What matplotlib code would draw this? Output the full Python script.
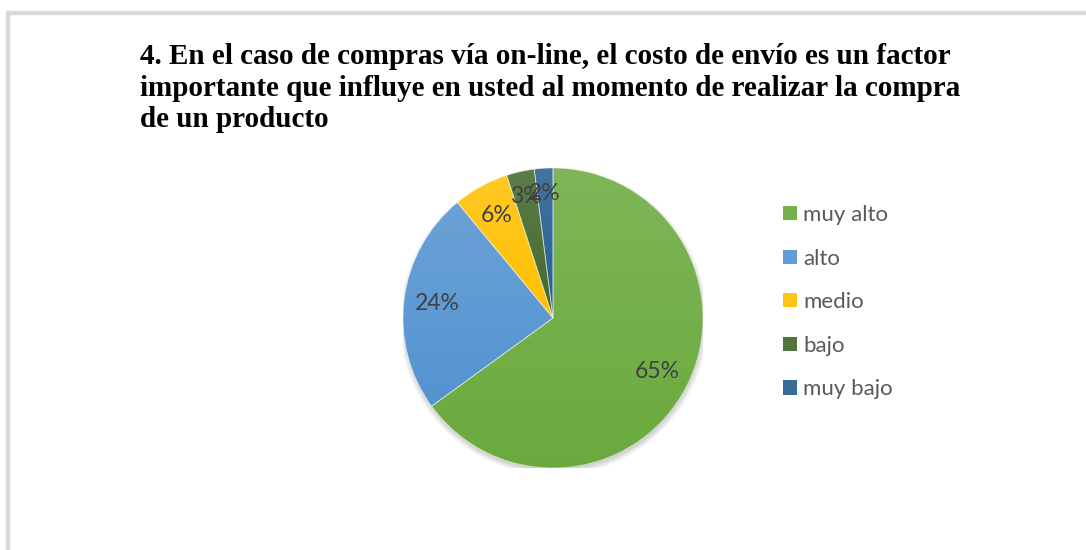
import numpy as np
import matplotlib
matplotlib.use("Agg")
import matplotlib.pyplot as plt
from matplotlib.colors import LinearSegmentedColormap, to_rgb
from matplotlib.patches import Rectangle, Circle

# data
categories = ["muy alto", "alto", "medio", "bajo", "muy bajo"]
values = [65, 24, 6, 3, 2]
base_colors = ["#6aaa3d", "#5393d0", "#ffc000", "#43682b", "#255e91"]
title_lines = [
    "4. En el caso de compras vía on-line, el costo de envío es un factor",
    "importante que influye en usted al momento de realizar la compra",
    "de un producto",
]


def lighten(c, f):
    r, g, b = to_rgb(c)
    return (r + (1 - r) * f, g + (1 - g) * f, b + (1 - b) * f)


W, H = 1086, 550
fig = plt.figure(figsize=(W / 100, H / 100), dpi=100)

# chart frame
fig.patches.append(Rectangle((8 / W, -0.1), 1.2, 1 - 13 / H + 0.1, transform=fig.transFigure,
                             fill=False, edgecolor="#d9d9d9", linewidth=3.2))

# title
fig.text(140 / W, 1 - 43 / H, "\n".join(title_lines), ha="left", va="top",
         fontsize=21, fontweight="bold", family="Liberation Serif",
         linespacing=1.22, color="black")

# pie axes: centre (553, 318), radius 150 px
cx, cy, r = 553, 318, 150
ax = fig.add_axes([(cx - r) / W, (H - cy - r) / H, 2 * r / W, 2 * r / H])

# soft shadow, mostly below the pie
for k in range(7):
    ax.add_patch(Circle((0.004, -0.022), 0.985 + 0.007 * k, color="black",
                        alpha=0.03, zorder=0, linewidth=0))

wedges, texts, autotexts = ax.pie(
    values, colors=base_colors, startangle=90, counterclock=False,
    autopct="%1.0f%%", pctdistance=0.78,
    wedgeprops=dict(edgecolor="white", linewidth=0.6),
    textprops=dict(color="#404040", fontsize=16.5, family="Lato"),
)

grad = np.linspace(0, 1, 256).reshape(-1, 1)
for w, c in zip(wedges, base_colors):
    ext = w.get_path().get_extents()
    cmap = LinearSegmentedColormap.from_list("g", [c, lighten(c, 0.14)])
    im = ax.imshow(grad, cmap=cmap, extent=(ext.x0, ext.x1, ext.y0, ext.y1),
                   origin="lower", aspect="auto", zorder=1, interpolation="bilinear")
    im.set_clip_path(w)
    w.set_zorder(2)
    w.set_facecolor("none")
    w.set_edgecolor((1, 1, 1, 0.5))

# the thin slices carry their labels a bit further out
for w, t, v in zip(wedges, autotexts, values):
    t.set_zorder(5)
    if v < 5:
        mid = np.deg2rad((w.theta1 + w.theta2) / 2)
        t.set_position((0.83 * np.cos(mid), 0.83 * np.sin(mid)))

ax.set_xlim(-1, 1)
ax.set_ylim(-1, 1)
ax.set_aspect("equal")
ax.axis("off")

# legend
handles = [Rectangle((0, 0), 1, 1, facecolor=lighten(c, 0.08), edgecolor="none") for c in base_colors]
leg = fig.legend(handles, categories, loc="upper left", bbox_to_anchor=(783 / W, 1 - 205 / H),
                 frameon=False, prop=dict(family="Lato", size=16),
                 handlelength=0.62, handleheight=0.62, handletextpad=0.3,
                 labelspacing=1.06, borderpad=0, borderaxespad=0)
for t in leg.get_texts():
    t.set_color("#595959")

fig.savefig("out.png", dpi=100, facecolor="white")
